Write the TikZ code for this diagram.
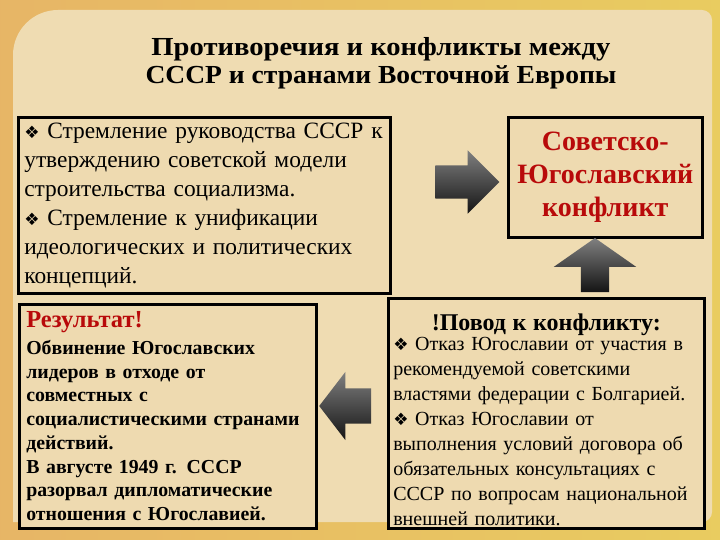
\documentclass[tikz,border=0pt]{standalone}
\usepackage{fontspec}
\setmainfont{Liberation Serif}
\newfontfamily\symfont{DejaVu Sans}
\usetikzlibrary{positioning, shapes.arrows}

\definecolor{bgouter}{HTML}{E3BF78}
\definecolor{bgpanel}{HTML}{EFDCB2}
\definecolor{boxfill}{HTML}{EEDAB0}
\definecolor{darkred}{HTML}{B80A0A}

\newcommand{\bul}{{\symfont\fontsize{17}{17}\selectfont\char"2756}}

\tikzset{
  box/.style={draw=black, line width=2.6pt, fill=boxfill, inner xsep=7pt, inner ysep=0pt, align=left, anchor=north west},
  blockarrow/.style={single arrow, draw=none, top color=black!50, bottom color=black!92, inner sep=0pt},
}

\begin{document}
\begin{tikzpicture}[x=1pt, y=-1pt]
  % background and panel
  \fill[left color=bgouter!85!orange, right color=bgouter!80!yellow] (0,0) rectangle (720,540);
  \fill[bgpanel] (13,522) [rounded corners=45] -- (13,10) [rounded corners=10] -- (712,10) -- (712,522) [sharp corners] -- cycle;
  \useasboundingbox (0,0) rectangle (720,540);

  % title
  \node[align=center, font=\bfseries\fontsize{26}{28}\selectfont] (title) at (381,63)
    {\scalebox{1.1}[1]{Противоречия и конфликты между}\\ \scalebox{1.06}[1]{СССР и странами Восточной Европы}};

  % boxes
  \node[box, minimum width=372, minimum height=176, text width=360, inner xsep=6pt, font=\fontsize{23.4}{29}\selectfont] (aims) at (17,116)
    {\bul\ Стремление руководства СССР к\\ утверждению советской модели\\ строительства социализма.\\ \bul\ Стремление к унификации\\ идеологических и политических\\ концепций.};

  \node[box, align=center, minimum width=188, minimum height=120, text width=180, text=darkred,
        font=\bfseries\fontsize{28}{33}\selectfont] (conflict) at (507,116)
    {Советско-\\ Югославский\\ конфликт};

  \node[box, minimum width=297, minimum height=224, text width=283, font=\bfseries\fontsize{19.8}{23.7}\selectfont] (result) at (18,303)
    {{\color{darkred}\fontsize{24.5}{24}\selectfont Результат!}\\[3pt]
     Обвинение Югославских\\ лидеров в отходе от\\ совместных с\\ социалистическими странами\\ действий.\\
     В августе 1949 г. СССР\\ разорвал дипломатические\\ отношения с Югославией.};

  \node[box, minimum width=316, minimum height=230, inner xsep=5pt, text width=306, font=\fontsize{20}{25}\selectfont] (reason) at (387,297)
    {\makebox[306pt][c]{\rule{0pt}{30pt}\bfseries\fontsize{24}{24}\selectfont !Повод к конфликту:}\\[-5pt]
     \bul\ Отказ Югославии от участия в\\ рекомендуемой советскими\\ властями федерации с Болгарией.\\
     \bul\ Отказ Югославии от\\ выполнения условий договора об\\ обязательных консультациях с\\
     СССР по вопросам национальной\\ внешней политики.};

  % arrows
  \node[blockarrow, minimum height=64, inner ysep=16.5pt, single arrow head extend=15pt] (toright) at (459,182) {};
  \node[blockarrow, shape border rotate=90, minimum height=54, inner xsep=14pt, single arrow head extend=27pt,
        single arrow tip angle=110] (toup) at (595,270) {};
  \node[blockarrow, shape border rotate=180, minimum height=52, inner ysep=17.5pt, single arrow head extend=16.5pt,
        single arrow tip angle=105] (toleft) at (352,406) {};
\end{tikzpicture}
\end{document}
